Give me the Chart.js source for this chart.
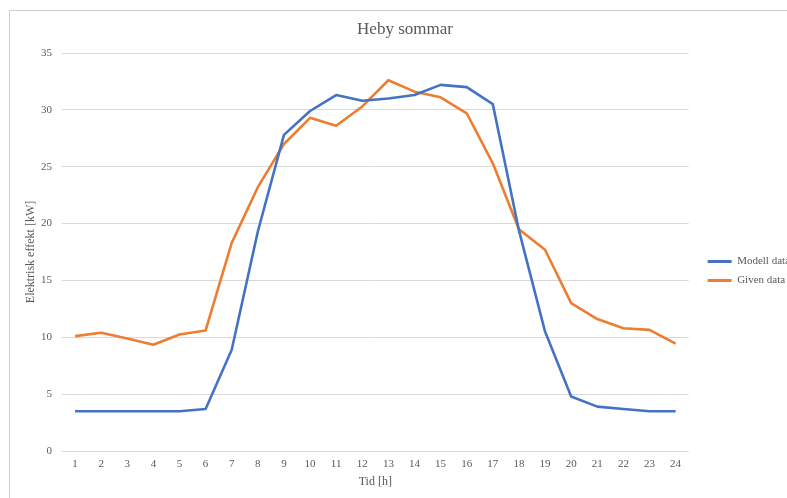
<!DOCTYPE html>
<html>
<head>
<meta charset="utf-8">
<script src="https://cdn.jsdelivr.net/npm/chart.js@4/dist/chart.umd.min.js"></script>
<style>
  html, body { margin: 0; padding: 0; background: #fff; overflow: hidden; }
  #frame {
    position: absolute; left: 9px; top: 10px;
    border-top: 1px solid #d0d0d0; border-left: 1px solid #d0d0d0;
  }
  canvas { display: block; }
</style>
</head>
<body>
<div id="frame"><canvas id="chart" width="790" height="520"></canvas></div>
<script>
// data
const hours = ['1','2','3','4','5','6','7','8','9','10','11','12','13','14','15','16','17','18','19','20','21','22','23','24'];
const modellData = [3.5, 3.5, 3.5, 3.5, 3.5, 3.7, 8.9, 19.3, 27.8, 29.9, 31.3, 30.8, 31.0, 31.3, 32.2, 32.0, 30.5, 19.4, 10.5, 4.8, 3.9, 3.7, 3.5, 3.5];
const givenData = [10.1, 10.4, 9.9, 9.35, 10.25, 10.6, 18.3, 23.2, 27.0, 29.3, 28.6, 30.3, 32.6, 31.6, 31.1, 29.7, 25.3, 19.5, 17.7, 13.0, 11.6, 10.8, 10.65, 9.45];
const yMin = 0, yMax = 35, yStep = 5;

const textColor = '#595959';
const serif = "'Liberation Serif', 'Times New Roman', serif";

var ctx = document.getElementById('chart');

new Chart(ctx, {
  type: 'line',
  data: {
    labels: hours,
    datasets: [{
      label: 'Modell data',
      data: modellData,
      borderColor: '#4472C4',
      backgroundColor: '#4472C4',
      borderWidth: 2.6,
      pointRadius: 0,
      tension: 0,
      borderJoinStyle: 'round'
    }, {
      label: 'Given data',
      data: givenData,
      borderColor: '#ED7D31',
      backgroundColor: '#ED7D31',
      borderWidth: 2.6,
      pointRadius: 0,
      tension: 0,
      borderJoinStyle: 'round'
    }]
  },
  options: {
    responsive: false,
    animation: false,
    layout: { padding: 0 },
    plugins: {
      title: {
        display: true,
        text: 'Heby sommar',
        color: textColor,
        font: { family: serif, size: 17, weight: 'normal' },
        padding: { top: 8, bottom: 13.6 }
      },
      legend: {
        position: 'right',
        labels: {
          color: textColor,
          font: { family: serif, size: 11 },
          boxWidth: 24,
          boxHeight: 3,
          padding: 8,
          // thin line sample, no outline around the box
          generateLabels: function(chart) {
            var items = Chart.defaults.plugins.legend.labels.generateLabels(chart);
            items.forEach(function(item) { item.lineWidth = 0; });
            return items;
          }
        }
      },
      tooltip: { enabled: false }
    },
    scales: {
      x: {
        offset: true,
        grid: { display: false, drawTicks: false },
        border: { display: false },
        ticks: { color: textColor, font: { family: serif, size: 11 }, padding: 7, maxRotation: 0 },
        title: {
          display: true,
          text: 'Tid [h]',
          color: textColor,
          font: { family: serif, size: 12 },
          padding: { top: 0, bottom: 42 }
        },
        afterFit: function(scale) { scale.height = 80; }
      },
      y: {
        min: yMin,
        max: yMax,
        ticks: { stepSize: yStep, color: textColor, font: { family: serif, size: 11 }, padding: 10 },
        grid: { color: '#d9d9d9', drawTicks: false },
        border: { display: false },
        title: {
          display: true,
          text: 'Elektrisk effekt [kW]',
          color: textColor,
          font: { family: serif, size: 12 },
          padding: { top: 14, bottom: 0 }
        },
        afterFit: function(scale) { scale.width = 52; }
      },
      // empty spacer between plot and legend
      gap: {
        type: 'linear',
        position: 'right',
        grid: { display: false, drawTicks: false },
        border: { display: false },
        ticks: { display: false },
        afterFit: function(scale) { scale.width = 11; }
      }
    }
  }
});
</script>
</body>
</html>
